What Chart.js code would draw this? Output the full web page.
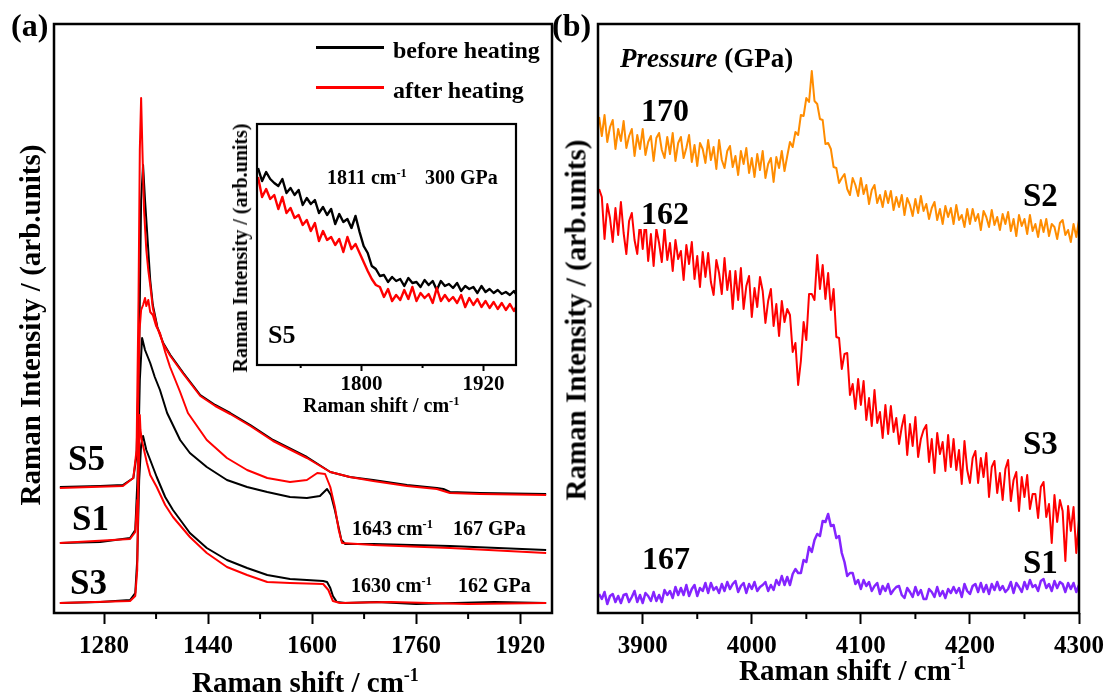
<!DOCTYPE html>
<html>
<head>
<meta charset="utf-8">
<script src="https://cdn.jsdelivr.net/npm/chart.js@4.4.0/dist/chart.umd.min.js"></script>
<style>
body { margin: 0; background: #fff; }
#wrap { position: relative; width: 1112px; height: 697px; overflow: hidden;
        font-family: 'Liberation Serif', 'Times New Roman', serif; font-weight: bold; color: #000; }
canvas { position: absolute; left: 0; top: 0; }
.t { position: absolute; white-space: nowrap; line-height: 1; transform: translateY(-50%); }
.v { transform: translate(-50%, -50%) rotate(-90deg); }
.bg { background: #fff; padding: 0 4px; }
sup { font-size: 0.62em; vertical-align: 0; position: relative; top: -0.6em; }
.sw { position: absolute; height: 2.5px; }
</style>
</head>
<body>
<div id="wrap">
<canvas id="chartA" width="1112" height="697"></canvas>
<canvas id="chartInset" width="1112" height="697"></canvas>
<canvas id="chartB" width="1112" height="697"></canvas>

<!-- panel (a) -->
<div class="t" style="left:11px;top:25px;font-size:32px">(a)</div>
<div class="sw" style="left:316px;top:46px;width:68px;background:#000"></div>
<div class="t" style="left:393px;top:50px;font-size:24px">before heating</div>
<div class="sw" style="left:316px;top:86px;width:68px;background:#f00"></div>
<div class="t" style="left:393px;top:90px;font-size:24px">after heating</div>
<div class="t v" style="left:30px;top:325px;font-size:29px">Raman Intensity / (arb.units)</div>
<div class="t" style="left:192px;top:682px;font-size:29px">Raman shift / cm<sup>-1</sup></div>
<div class="t" style="left:68px;top:458px;font-size:35px">S5</div>
<div class="t" style="left:72px;top:518px;font-size:35px">S1</div>
<div class="t" style="left:70px;top:582px;font-size:35px">S3</div>
<div class="t" style="left:352px;top:528px;font-size:20px">1643 cm<sup>-1</sup></div>
<div class="t" style="left:453px;top:528px;font-size:20px">167 GPa</div>
<div class="t" style="left:351px;top:585px;font-size:20px">1630 cm<sup>-1</sup></div>
<div class="t" style="left:458px;top:585px;font-size:20px">162 GPa</div>

<!-- inset -->
<div class="t" style="left:327px;top:177px;font-size:20px">1811 cm<sup>-1</sup></div>
<div class="t" style="left:425px;top:177px;font-size:20px">300 GPa</div>
<div class="t" style="left:268px;top:335px;font-size:26px">S5</div>
<div class="t v" style="left:240px;top:248px;font-size:20px">Raman Intensity / (arb.units)</div>
<div class="t" style="left:303px;top:405px;font-size:20px">Raman shift / cm<sup>-1</sup></div>

<!-- panel (b) -->
<div class="t" style="left:552px;top:25px;font-size:32px">(b)</div>
<div class="t" style="left:620px;top:58px;font-size:27px"><i>Pressure</i> (GPa)</div>
<div class="t bg" style="left:637px;top:110px;font-size:32px">170</div>
<div class="t bg" style="left:637px;top:213px;font-size:32px">162</div>
<div class="t bg" style="left:638px;top:558px;font-size:32px">167</div>
<div class="t" style="left:1023px;top:195px;font-size:33px">S2</div>
<div class="t" style="left:1023px;top:443px;font-size:33px">S3</div>
<div class="t" style="left:1023px;top:562px;font-size:33px">S1</div>
<div class="t v" style="left:576px;top:320px;font-size:29px">Raman Intensity / (arb.units)</div>
<div class="t" style="left:739px;top:670px;font-size:29px">Raman shift / cm<sup>-1</sup></div>
</div>

<script>
// ---- panel (a): x in cm-1, y in arb. units ----
const ticksA = [1280, 1440, 1600, 1760, 1920];
const minorA = [1360, 1520, 1680, 1840];

const s3BeforeX = [1212,1274,1320,1328,1331,1334,1337,1340,1345,1351,1361,1374,1386,1412,1438,1469,1500,1531,1566,1592,1617,1623,1628,1632,1638,1651,1700,1760,1820,1880,1960];
const s3BeforeY = [10,11,13,20,53,133,168,177,163,153,136,116,103,80,65,53,45,38,34,33,32,31,25,17,11,10,11,9,10,11,10];
const s3AfterX = [1212,1320,1328,1331,1333,1335,1336,1338,1346,1351,1361,1374,1386,1412,1438,1469,1500,1531,1566,1617,1625,1632,1643,1720,1840,1960];
const s3AfterY = [10,12,17,43,133,198,183,173,150,138,126,108,96,76,60,46,38,31,30,29,23,12,10,11,9,10];

const s5BeforeX = [1212,1274,1309,1325,1330,1334,1337,1340,1343,1348,1351,1355,1362,1371,1382,1402,1428,1451,1474,1505,1540,1592,1628,1658,1694,1746,1792,1802,1812,1858,1960];
const s5BeforeY = [126,127,128,135,158,263,413,448,413,363,333,308,286,270,258,240,218,208,200,188,173,156,141,136,133,128,125,124,121,120,119];
const s5AfterX = [1212,1309,1325,1330,1333,1335,1337,1339,1341.5,1345,1348,1351,1355,1362,1371,1382,1402,1428,1451,1474,1505,1540,1592,1628,1658,1694,1746,1792,1812,1858,1960];
const s5AfterY = [125,127,135,163,313,463,515,463,403,363,343,328,305,285,269,257,239,217,207,199,187,172,155,141,136,132,127,124,120,119,118];

const s1BeforeX = [1212,1274,1320,1328,1332,1335,1338.5,1343,1351,1358,1366,1377,1397,1412,1438,1469,1500,1531,1566,1592,1612,1623,1629,1635,1640,1645,1651,1694,1812,1960];
const s1BeforeY = [70,71,75,83,143,233,275,263,250,236,223,200,173,160,146,133,126,121,116,115,117,124,118,103,88,73,69,69,67,63];
const s1AfterX = [1212,1320,1328,1331,1332,1334.6,1337,1340,1343,1345,1348,1351,1355,1360,1366,1374,1381.5,1397,1409,1438,1469,1500,1531,1566,1592,1608,1620,1628,1635,1641,1646,1694,1812,1960];
const s1AfterY = [70,74,81,113,193,283,303,308,315,307,313,301,298,287,280,261,246,221,200,173,155,143,135,131,133,140,139,126,106,83,70,68,65,60];

// ---- inset (S5, 300 GPa) ----
const ticksInset = [1800, 1920];
const minorInset = [1740, 1860];
const insetX = [1698,1702,1706,1710,1714,1718,1722,1726,1730,1734,1738,1742,1746,1750,1754,1758,1762,1766,1770,1774,
  1778,1782,1786,1790,1794,1798,1802,1806,1810,1814,1818,1822,1826,1830,1834,1838,1842,1846,1850,1854,
  1858,1862,1866,1870,1874,1878,1882,1886,1890,1894,1898,1902,1906,1910,1914,1918,1922,1926,1930,1934,
  1938,1942,1946,1950,1952];
const insetBefore = [197,184,193,186,182,179,186,172,177,170,175,160,167,161,165,152,158,150,156,141,
  151,143,146,137,149,133,119,112,99,96,89,90,83,88,84,86,79,87,82,83,
  78,85,80,84,75,84,79,81,77,82,74,79,76,78,72,79,73,76,72,75,
  71,73,70,74,71];
const insetAfter = [188,168,176,166,170,156,168,152,157,147,150,140,145,134,142,124,134,125,128,120,
  126,113,128,116,121,112,103,94,86,80,78,68,76,64,70,65,75,66,78,64,
  72,67,71,62,77,64,70,64,68,62,70,58,67,60,66,58,64,57,63,56,
  62,55,61,54,58];

// ---- panel (b) ----
const ticksB = [3900, 4000, 4100, 4200, 4300];
const minorB = [3950, 4050, 4150, 4250];
const xB = [
  3860,3862.5,3865,3867.5,3870,3872.5,3875,3877.5,3880,3882.5,
  3885,3887.5,3890,3892.5,3895,3897.5,3900,3902.5,3905,3907.5,
  3910,3912.5,3915,3917.5,3920,3922.5,3925,3927.5,3930,3932.5,
  3935,3937.5,3940,3942.5,3945,3947.5,3950,3952.5,3955,3957.5,
  3960,3962.5,3965,3967.5,3970,3972.5,3975,3977.5,3980,3982.5,
  3985,3987.5,3990,3992.5,3995,3997.5,4000,4002.5,4005,4007.5,
  4010,4012.5,4015,4017.5,4020,4022.5,4025,4027.5,4030,4032.5,
  4035,4037.5,4040,4042.5,4045,4047.5,4050,4052.5,4055,4057.5,
  4060,4062.5,4065,4067.5,4070,4072.5,4075,4077.5,4080,4082.5,
  4085,4087.5,4090,4092.5,4095,4097.5,4100,4102.5,4105,4107.5,
  4110,4112.5,4115,4117.5,4120,4122.5,4125,4127.5,4130,4132.5,
  4135,4137.5,4140,4142.5,4145,4147.5,4150,4152.5,4155,4157.5,
  4160,4162.5,4165,4167.5,4170,4172.5,4175,4177.5,4180,4182.5,
  4185,4187.5,4190,4192.5,4195,4197.5,4200,4202.5,4205,4207.5,
  4210,4212.5,4215,4217.5,4220,4222.5,4225,4227.5,4230,4232.5,
  4235,4237.5,4240,4242.5,4245,4247.5,4250,4252.5,4255,4257.5,
  4260,4262.5,4265,4267.5,4270,4272.5,4275,4277.5,4280,4282.5,
  4285,4287.5,4290,4292.5,4295,4297.5,4300];
const s2_170 = [
  496,477,498,471,486,493,464,484,472,492,
  465,477,484,457,478,464,484,458,471,477,
  452,475,480,463,455,476,459,480,452,470,
  476,455,465,478,451,468,447,470,464,450,
  473,453,466,444,473,453,445,462,467,446,
  457,438,462,449,465,440,455,436,459,443,
  462,435,449,455,431,456,445,462,442,457,
  471,466,481,478,498,497,515,511,542,512,
  509,494,493,469,470,464,446,445,430,435,
  439,424,418,435,428,417,435,419,428,409,
  423,428,410,418,406,422,410,422,403,416,
  406,418,398,415,408,397,414,400,417,402,
  409,394,405,411,393,404,389,407,396,405,
  389,408,393,398,386,404,389,404,392,399,
  383,402,396,386,403,388,396,383,399,389,
  401,382,394,377,398,387,394,379,398,382,
  389,376,393,381,394,377,389,386,374,390,
  393,378,383,371,389,376,393];
const s3_162 = [
  424,416,374,409,395,371,405,378,411,380,
  359,392,400,373,359,391,364,394,352,379,
  347,384,370,351,385,353,370,342,373,354,
  362,333,368,349,371,334,357,326,361,336,
  360,331,318,353,340,319,355,323,342,304,
  342,313,345,304,327,337,296,325,306,336,
  322,290,312,324,287,309,277,312,291,304,
  298,261,270,228,252,291,273,319,319,313,
  358,324,348,314,340,303,324,276,275,244,
  259,260,218,229,204,234,208,232,193,215,
  187,223,190,201,175,208,179,207,181,195,
  169,186,198,158,189,167,196,156,174,183,
  188,151,174,140,180,159,171,142,178,146,
  174,143,163,129,172,143,130,155,162,130,
  155,136,160,116,146,152,120,140,113,144,
  153,112,133,141,102,136,116,138,104,119,
  119,95,126,131,96,109,70,118,91,113,
  102,52,107,82,106,60,93];
const s1_167 = [
  19,14,21,9,17,19,11,17,10,18,
  19,11,16,22,11,18,10,20,17,12,
  21,12,18,11,23,18,22,15,26,18,
  25,18,28,17,24,28,17,25,22,30,
  20,30,23,26,20,29,22,31,24,29,
  32,21,27,30,20,29,24,31,22,26,
  28,31,22,28,23,33,28,37,28,36,
  28,39,44,40,40,53,51,66,61,73,
  79,77,92,91,99,87,88,75,77,60,
  51,37,40,40,29,33,24,33,27,31,
  22,27,30,19,27,22,29,19,23,26,
  27,18,15,25,21,16,26,18,23,14,
  14,24,21,16,26,17,22,15,24,20,
  26,20,25,16,29,22,19,27,29,21,
  30,21,28,19,29,23,31,23,27,21,
  24,31,20,30,26,21,31,24,33,26,
  28,22,32,34,25,29,22,32,25,31,
  29,21,30,24,30,21,28];

const pts = (xs, ys) => xs.map((x, i) => ({ x: x, y: ys[i] }));

// frame round the plot area + short minor ticks under it
const framePlugin = {
    id: 'frame',
    beforeDraw(chart, args, opts) {
        if (!opts.fill) return;
        const a = chart.chartArea, ctx = chart.ctx;
        ctx.save();
        ctx.fillStyle = '#fff';
        ctx.fillRect(a.left, a.top, a.right - a.left, a.bottom - a.top);
        ctx.restore();
    },
    afterDraw(chart, args, opts) {
        const a = chart.chartArea, ctx = chart.ctx, x = chart.scales.x;
        ctx.save();
        ctx.strokeStyle = '#000';
        ctx.lineWidth = opts.width;
        ctx.strokeRect(a.left, a.top, a.right - a.left, a.bottom - a.top);
        ctx.lineWidth = 2;
        ctx.beginPath();
        opts.minor.forEach(v => {
            const px = x.getPixelForValue(v);
            ctx.moveTo(px, a.bottom);
            ctx.lineTo(px, a.bottom + opts.minorLen);
        });
        ctx.stroke();
        ctx.restore();
    }
};

function makeChart(id, cfg) {
    return new Chart(document.getElementById(id), {
        type: 'line',
        data: { datasets: cfg.datasets },
        options: {
            responsive: false,
            maintainAspectRatio: false,
            animation: false,
            devicePixelRatio: 1,
            layout: { padding: cfg.padding },
            elements: {
                point: { radius: 0 },
                line: { tension: 0, borderJoinStyle: 'round' }
            },
            plugins: {
                legend: { display: false },
                tooltip: { enabled: false },
                frame: { width: cfg.frameWidth, minor: cfg.minor, minorLen: cfg.minorLen, fill: cfg.fill }
            },
            scales: {
                x: {
                    type: 'linear',
                    min: cfg.xMin,
                    max: cfg.xMax,
                    afterFit: s => { s.height = cfg.axisHeight; },
                    afterBuildTicks: s => { s.ticks = cfg.ticks.map(v => ({ value: v })); },
                    border: { display: false },
                    grid: { drawOnChartArea: false, tickLength: cfg.tickLength, tickWidth: 2, tickColor: '#000' },
                    ticks: {
                        color: '#000',
                        padding: cfg.tickPadding,
                        maxRotation: 0,
                        autoSkip: false,
                        font: { family: "'Liberation Serif'", size: cfg.tickSize, weight: 'bold' },
                        callback: v => String(v)
                    }
                },
                y: { display: false, min: 0, max: cfg.yMax }
            }
        },
        plugins: [framePlugin]
    });
}

makeChart('chartA', {
    datasets: [
        { data: pts(s5AfterX, s5AfterY), borderColor: '#ff0000', borderWidth: 2 },
        { data: pts(s1AfterX, s1AfterY), borderColor: '#ff0000', borderWidth: 2 },
        { data: pts(s3AfterX, s3AfterY), borderColor: '#ff0000', borderWidth: 2 },
        { data: pts(s5BeforeX, s5BeforeY), borderColor: '#000000', borderWidth: 2 },
        { data: pts(s1BeforeX, s1BeforeY), borderColor: '#000000', borderWidth: 2 },
        { data: pts(s3BeforeX, s3BeforeY), borderColor: '#000000', borderWidth: 2 }
    ],
    padding: { left: 54, top: 24, right: 560, bottom: 34 },
    xMin: 1203, xMax: 1969, yMax: 589,
    ticks: ticksA, minor: minorA, minorLen: 6, tickLength: 11,
    axisHeight: 50, tickPadding: 8, tickSize: 25, frameWidth: 2.5, fill: false
});

makeChart('chartInset', {
    datasets: [
        { data: pts(insetX, insetAfter), borderColor: '#ff0000', borderWidth: 2.4 },
        { data: pts(insetX, insetBefore), borderColor: '#000000', borderWidth: 2.4 }
    ],
    padding: { left: 257, top: 124, right: 596, bottom: 302 },
    xMin: 1697, xMax: 1952, yMax: 241,
    ticks: ticksInset, minor: minorInset, minorLen: 3, tickLength: 6,
    axisHeight: 30, tickPadding: 1, tickSize: 21, frameWidth: 2.2, fill: true
});

makeChart('chartB', {
    datasets: [
        { data: pts(xB, s2_170), borderColor: '#ff8c00', borderWidth: 2 },
        { data: pts(xB, s3_162), borderColor: '#ff0000', borderWidth: 2 },
        { data: pts(xB, s1_167), borderColor: '#8424ff', borderWidth: 2.5 }
    ],
    padding: { left: 598, top: 24, right: 33, bottom: 34 },
    xMin: 3859, xMax: 4300, yMax: 589,
    ticks: ticksB, minor: minorB, minorLen: 6, tickLength: 11,
    axisHeight: 50, tickPadding: 8, tickSize: 25, frameWidth: 2.5, fill: false
});
</script>
</body>
</html>
